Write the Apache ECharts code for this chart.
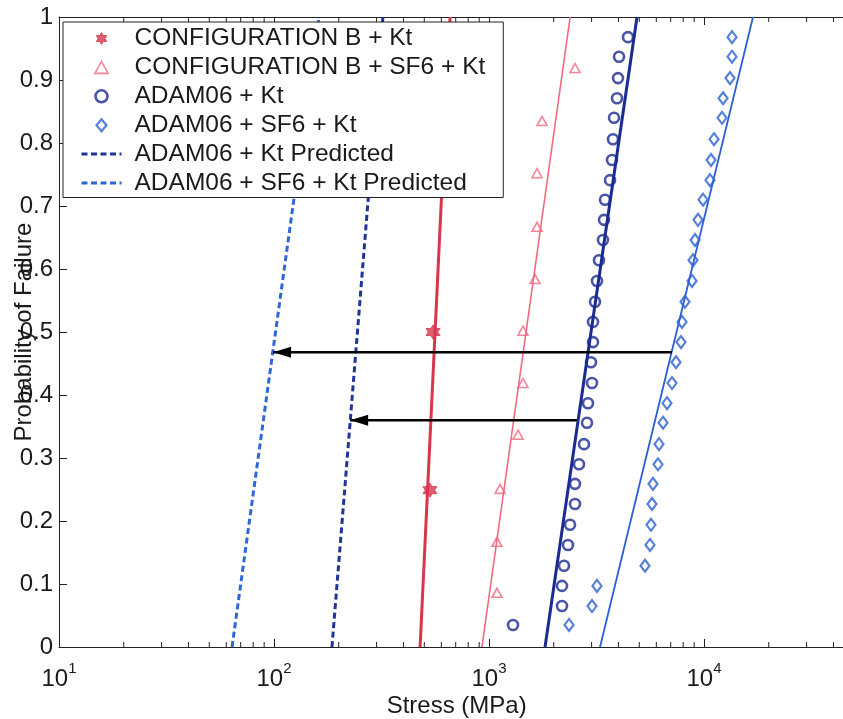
<!DOCTYPE html>
<html>
<head>
<meta charset="utf-8">
<script src="https://cdn.jsdelivr.net/npm/echarts@6/dist/echarts.min.js"></script>
<style>
  html, body { margin: 0; padding: 0; background: #fff; }
  #chart { width: 843px; height: 719px; }
</style>
</head>
<body>
<div id="chart"></div>
<script>
// ---- measured failure data (stress in MPa, cumulative probability of failure) ----
const configBStress = [531, 549];
const configBProb   = [0.249, 0.500];

const configBSf6Stress = [1089, 1089, 1125, 1365, 1439, 1439, 1637, 1672, 1672, 1764, 2512];
const configBSf6Prob   = [0.086, 0.167, 0.251, 0.337, 0.419, 0.502, 0.584, 0.667, 0.752, 0.835, 0.919];

// both ADAM06 data sets share the same rank probabilities (30 specimens each)
const adamProb = [0.035, 0.065, 0.097, 0.129, 0.162, 0.194, 0.227, 0.259, 0.290, 0.322,
                  0.356, 0.387, 0.419, 0.452, 0.484, 0.516, 0.548, 0.581, 0.614, 0.646,
                  0.678, 0.710, 0.741, 0.773, 0.806, 0.840, 0.871, 0.903, 0.937, 0.968];
const adamKtStress = [1293, 2185, 2185, 2233, 2330, 2381, 2512, 2512, 2621, 2766,
                      2856, 2887, 3013, 2981, 3046, 3046, 3112, 3178, 3247, 3389,
                      3426, 3463, 3654, 3733, 3773, 3814, 3939, 3981, 4025, 4430];
const adamSf6Stress = [2356, 3013, 3178, 5316, 5609, 5668, 5729, 5791, 6109, 6175,
                       6446, 6728, 7098, 7409, 7816, 7901, 8158, 8795, 8889, 9081,
                       9378, 9893, 10660, 10780, 11130, 12125, 12260, 13210, 13500, 13500];

// ---- fitted distributions (end points at P = 0 and P = 1) ----
const fitProb = [0, 1];
const configBFit    = [478, 659];
const configBSf6Fit = [927, 2384];
const adamKtFit     = [1822, 4880];
const adamSf6Fit    = [3284, 16900];

// ---- predicted distributions (dashed) ----
const adamKtPred  = [186, 321];
const adamSf6Pred = [63.8, 162];

// ---- arrows: shift from measured fit to prediction ----
const arrowSf6 = { prob: 0.468, from: 7096, to: 99 };
const arrowKt  = { prob: 0.360, from: 2564, to: 226 };

// ---- axes ----
const xMin = 10, xMax = 50000;
const minorTicks = [20, 30, 40, 50, 60, 70, 80, 90,
                    200, 300, 400, 500, 600, 700, 800, 900,
                    2000, 3000, 4000, 5000, 6000, 7000, 8000, 9000,
                    20000, 30000, 40000];

const FONT = '"Liberation Sans", Arial, Helvetica, sans-serif';
const INK = '#1a1a1a';

const C_RED   = '#d8364c';
const C_PINK  = '#f2687f';
const C_NAVY  = '#1b2b92';
const C_BLUE  = '#2c60d2';
const C_NAVYD = '#1f3399';
const C_BLUED = '#2f66d8';

const zip = (xs, ys) => xs.map((x, i) => [x, ys[i]]);

// marker outlines
const starPath     = 'path://M50,0L64.4,25L93.3,25L78.9,50L93.3,75L64.4,75L50,100L35.6,75L6.7,75L21.1,50L6.7,25L35.6,25Z';
const trianglePath = 'path://M5,0L10,9L0,9Z';
const diamondPath  = 'path://M5,0L10,6L5,12L0,6Z';
const HOLLOW = 'rgba(255,255,255,0)';

const names = {
  cb: 'CONFIGURATION B + Kt',
  cbs: 'CONFIGURATION B + SF6 + Kt',
  ak: 'ADAM06 + Kt',
  as: 'ADAM06 + SF6 + Kt',
  akp: 'ADAM06 + Kt Predicted',
  asp: 'ADAM06 + SF6 + Kt Predicted'
};

function fitLine(name, stress, color, width) {
  return {
    name: name, type: 'line', data: zip(stress, fitProb),
    symbol: 'none', lineStyle: { color: color, width: width }, itemStyle: { color: color },
    z: 2, silent: true
  };
}

function arrow(a) {
  return {
    name: 'arrow', type: 'line', silent: true, z: 3,
    lineStyle: { color: '#000', width: 2.5 }, itemStyle: { color: '#000' },
    data: [
      { value: [a.from, a.prob], symbol: 'none' },
      { value: [a.to, a.prob], symbol: 'triangle', symbolRotate: 90, symbolSize: [11, 18], symbolOffset: [9, 0] }
    ]
  };
}

const chart = echarts.init(document.getElementById('chart'));

chart.setOption({
  animation: false,
  backgroundColor: '#fff',
  textStyle: { fontFamily: FONT, color: INK },
  grid: { left: 59, top: 17, right: -11.3, bottom: 72, show: false, containLabel: false, outerBoundsMode: 'none' },
  legend: {
    data: [
      { name: names.cb, icon: starPath, itemStyle: { color: C_RED, borderColor: C_RED, borderWidth: 1 } },
      { name: names.cbs, icon: trianglePath, itemStyle: { color: HOLLOW, borderColor: C_PINK, borderWidth: 1.6 } },
      { name: names.ak, icon: 'circle', itemStyle: { color: HOLLOW, borderColor: C_NAVY, borderWidth: 2.6 } },
      { name: names.as, icon: diamondPath, itemStyle: { color: HOLLOW, borderColor: C_BLUE, borderWidth: 2.2 } },
      { name: names.akp, icon: 'line', itemStyle: { color: C_NAVYD, borderColor: C_NAVYD, borderWidth: 3, borderType: [6, 3.5] } },
      { name: names.asp, icon: 'line', itemStyle: { color: C_BLUED, borderColor: C_BLUED, borderWidth: 3, borderType: [6, 3.5] } }
    ],
    orient: 'vertical',
    left: 63, top: 22,
    backgroundColor: '#fff',
    borderColor: '#222', borderWidth: 1, borderRadius: 0,
    padding: [4, 18, 2, 17],
    itemWidth: 40, itemHeight: 12, itemGap: 3.9,
    symbolKeepAspect: true,
    selectedMode: false,
    textStyle: { fontSize: 24.5, fontFamily: FONT, color: INK, padding: [0, 0, 0, 8] },
    z: 10
  },
  xAxis: [
    {
      type: 'log', logBase: 10, min: xMin, max: xMax, splitNumber: 4,
      name: 'Stress (MPa)', nameLocation: 'middle', nameGap: 47, nameMoveOverlap: false,
      nameTextStyle: { fontSize: 24, fontFamily: FONT, color: INK },
      axisLine: { lineStyle: { color: '#222', width: 1 } },
      axisTick: { inside: true, length: 8, lineStyle: { color: '#222' } },
      splitLine: { show: false },
      axisLabel: {
        margin: 14,
        formatter: v => {
          const e = Math.log10(v), r = Math.round(e);
          return Math.abs(e - r) < 1e-6 ? '{b|10}{s|' + r + '}' : '';
        },
        rich: {
          b: { fontSize: 24, lineHeight: 30, verticalAlign: 'bottom', fontFamily: FONT, color: INK },
          s: { fontSize: 15, lineHeight: 30, verticalAlign: 'top', fontFamily: FONT, color: INK }
        }
      }
    },
    {
      type: 'log', logBase: 10, min: xMin, max: xMax, splitNumber: 4, position: 'top',
      axisLine: { lineStyle: { color: '#222', width: 1 } },
      axisTick: { inside: true, length: 8, lineStyle: { color: '#222' } },
      axisLabel: { show: false }, splitLine: { show: false }
    }
  ],
  yAxis: {
    type: 'value', min: 0, max: 1, interval: 0.1,
    name: 'Probability of Failure', nameLocation: 'middle', nameGap: 23, nameMoveOverlap: false,
    nameTextStyle: { fontSize: 24, fontFamily: FONT, color: INK },
    axisLine: { show: true, lineStyle: { color: '#222', width: 1 } },
    axisTick: { show: true, inside: true, length: 8, lineStyle: { color: '#222' } },
    splitLine: { show: false },
    axisLabel: { fontSize: 24, margin: 6, fontFamily: FONT, color: INK }
  },
  series: [
    // minor ticks of the log axis (2..9 per decade), bottom and top edges
    {
      type: 'custom', name: 'minor ticks', silent: true, clip: false, z: 1,
      data: minorTicks.map(v => [v, 0]),
      encode: { x: 0, y: 1 },
      renderItem: (params, api) => {
        const v = api.value(0);
        const pb = api.coord([v, 0]);
        const pt = api.coord([v, 1]);
        return {
          type: 'group',
          children: [
            { type: 'line', shape: { x1: pb[0], y1: pb[1], x2: pb[0], y2: pb[1] - 5 }, style: { stroke: '#222', lineWidth: 1 } },
            { type: 'line', shape: { x1: pt[0], y1: pt[1], x2: pt[0], y2: pt[1] + 5 }, style: { stroke: '#222', lineWidth: 1 } }
          ]
        };
      }
    },
    fitLine('CONFIGURATION B fit', configBFit, C_RED, 3),
    fitLine('CONFIGURATION B SF6 fit', configBSf6Fit, C_PINK, 1.6),
    fitLine('ADAM06 fit', adamKtFit, C_NAVY, 3),
    fitLine('ADAM06 SF6 fit', adamSf6Fit, C_BLUE, 1.8),
    {
      name: names.akp, type: 'line', data: zip(adamKtPred, fitProb), symbol: 'none',
      lineStyle: { color: C_NAVYD, width: 3, type: [6, 3.5] }, itemStyle: { color: C_NAVYD }, z: 2
    },
    {
      name: names.asp, type: 'line', data: zip(adamSf6Pred, fitProb), symbol: 'none',
      lineStyle: { color: C_BLUED, width: 3, type: [6, 3.5] }, itemStyle: { color: C_BLUED }, z: 2
    },
    arrow(arrowSf6),
    arrow(arrowKt),
    {
      name: names.cb, type: 'scatter', data: zip(configBStress, configBProb),
      symbol: starPath, symbolSize: 14,
      itemStyle: { color: C_RED, borderColor: C_RED, borderWidth: 1 }, z: 4
    },
    {
      name: names.cbs, type: 'scatter', data: zip(configBSf6Stress, configBSf6Prob),
      symbol: trianglePath, symbolSize: [10, 9],
      itemStyle: { color: HOLLOW, borderColor: C_PINK, borderWidth: 1.6 }, z: 4
    },
    {
      name: names.ak, type: 'scatter', data: zip(adamKtStress, adamProb),
      symbol: 'circle', symbolSize: 10,
      itemStyle: { color: HOLLOW, borderColor: C_NAVY, borderWidth: 2.6 }, z: 4
    },
    {
      name: names.as, type: 'scatter', data: zip(adamSf6Stress, adamProb),
      symbol: diamondPath, symbolSize: [9, 12],
      itemStyle: { color: HOLLOW, borderColor: C_BLUE, borderWidth: 2.2 }, z: 4
    }
  ]
});
</script>
</body>
</html>
